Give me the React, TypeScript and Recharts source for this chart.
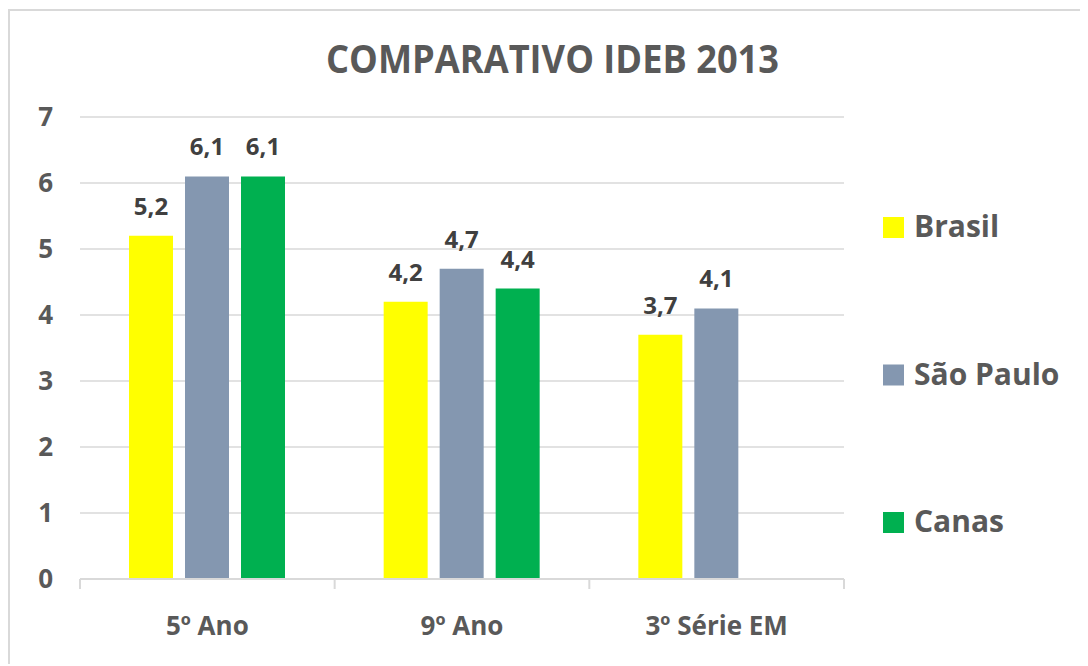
import React from 'react';
import { BarChart, Bar, XAxis, YAxis, CartesianGrid, Legend, LabelList } from 'recharts';

const categories = ['5º Ano', '9º Ano', '3º Série EM'];
const brasil = [5.2, 4.2, 3.7];
const saoPaulo = [6.1, 4.7, 4.1];
const canas: (number | null)[] = [6.1, 4.4, null];
const yTicks = [0, 1, 2, 3, 4, 5, 6, 7];
const seriesKeys = ['brasil', 'saoPaulo', 'canas'];
const seriesNames = ['Brasil', 'São Paulo', 'Canas'];
const seriesColors = ['#FFFF00', '#8497B0', '#00B050'];
const title = 'COMPARATIVO IDEB 2013';

const data = categories.map((c, i) => ({
  category: c,
  brasil: brasil[i],
  saoPaulo: saoPaulo[i],
  canas: canas[i],
}));

const W = 1076;
const H = 654;
const MARGIN = { top: 106, right: 242, bottom: 26, left: 0 };
const Y_AXIS_W = 70;
const PLOT_W = W - MARGIN.left - MARGIN.right - Y_AXIS_W;
const HALF_BAND = PLOT_W / categories.length / 2;
const FONT = "'Open Sans', 'Noto Sans', sans-serif";
const GRID = '#d9d9d9';
const TEXT = '#595959';

const fmt = (v: any) => (v == null ? '' : String(v).replace('.', ','));

const XTick = (props: any) => {
  const { x, y, payload, index } = props;
  const i = typeof index === 'number' ? index : categories.indexOf(payload.value);
  return (
    <g>
      <line x1={x - HALF_BAND} x2={x - HALF_BAND} y1={y} y2={y + 10} stroke={GRID} strokeWidth={2} />
      {i === categories.length - 1 && (
        <line x1={x + HALF_BAND} x2={x + HALF_BAND} y1={y} y2={y + 10} stroke={GRID} strokeWidth={2} />
      )}
      <text x={x} y={y + 56} textAnchor="middle" fill={TEXT} fontFamily={FONT} fontWeight={700} fontSize={26}>
        {payload.value}
      </text>
    </g>
  );
};

const renderLegend = (props: any) => {
  const payload = [...(props.payload || [])].sort(
    (a: any, b: any) => seriesNames.indexOf(a.value) - seriesNames.indexOf(b.value)
  );
  return (
    <svg width={200} height={360} style={{ overflow: 'visible' }}>
      {payload.map((p: any, i: number) => (
        <g key={i}>
          <rect x={0} y={16 + i * 147.5} width={21} height={21} fill={p.color} />
          <text x={31} y={36 + i * 147.5} fill={TEXT} fontFamily={FONT} fontWeight={700} fontSize={30}>
            {p.value}
          </text>
        </g>
      ))}
    </svg>
  );
};

export default function App() {
  return (
    <div
      style={{
        position: 'relative',
        top: 1,
        width: W,
        height: H,
        borderTop: `2px solid ${GRID}`,
        borderLeft: `2px solid ${GRID}`,
        background: '#fff',
      }}
    >
      <BarChart
        width={W}
        height={H}
        data={data}
        margin={MARGIN}
        barSize={44}
        barGap={12}
        style={{ fontFamily: FONT }}
      >
        <text
          x={542.5}
          y={62}
          textAnchor="middle"
          fill={TEXT}
          fontFamily={FONT}
          fontWeight={700}
          fontSize={39}
          textLength={453}
          lengthAdjust="spacingAndGlyphs"
        >
          {title}
        </text>
        <CartesianGrid vertical={false} stroke={GRID} strokeWidth={1.5} />
        <XAxis
          dataKey="category"
          axisLine={{ stroke: GRID, strokeWidth: 2 }}
          tickLine={false}
          tickSize={0}
          tickMargin={0}
          height={60}
          tick={<XTick />}
          interval={0}
        />
        <YAxis
          width={Y_AXIS_W}
          domain={[0, 7]}
          ticks={yTicks}
          interval={0}
          axisLine={false}
          tickLine={false}
          tickSize={0}
          tickMargin={27}
          tick={{ fill: TEXT, fontSize: 26, fontWeight: 700, fontFamily: FONT }}
        />
        <Legend
          layout="horizontal"
          verticalAlign="middle"
          align="center"
          itemSorter={null as any}
          content={renderLegend}
          wrapperStyle={{ left: 873, top: 190, width: 200, height: 360 }}
        />
        {seriesKeys.map((k, i) => (
          <Bar key={k} dataKey={k} name={seriesNames[i]} fill={seriesColors[i]} isAnimationActive={false}>
            <LabelList
              dataKey={k}
              position="top"
              offset={21}
              formatter={fmt}
              fill="#404040"
              fontSize={24}
              fontWeight={700}
              fontFamily={FONT}
            />
          </Bar>
        ))}
      </BarChart>
    </div>
  );
}
